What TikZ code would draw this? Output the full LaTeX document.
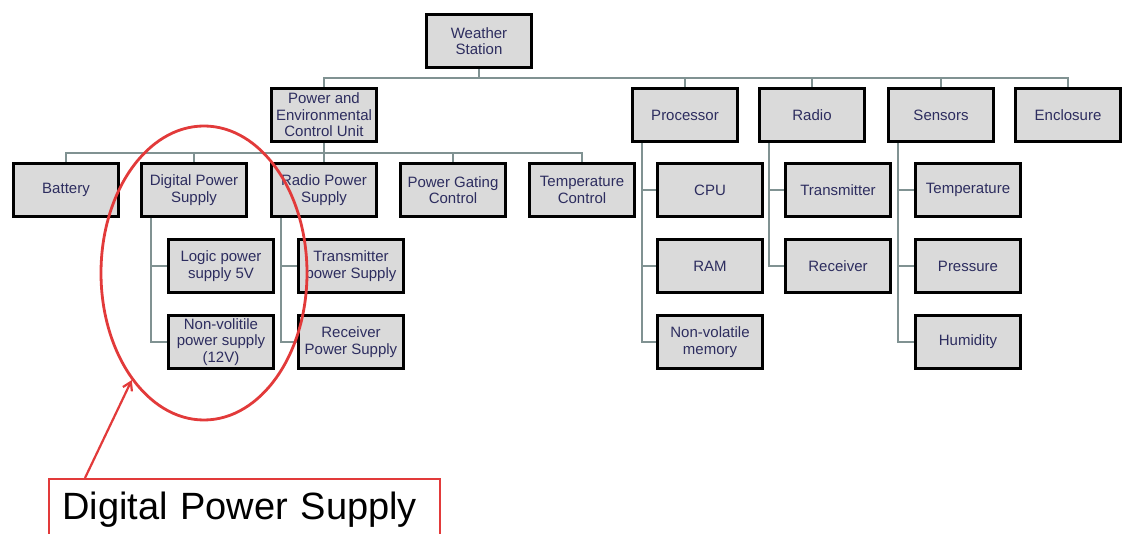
\documentclass[tikz,border=0pt]{standalone}
\usepackage{fontspec}
\setmainfont{Liberation Sans}
\usepackage{xcolor}
\usepackage{tikz}
\usetikzlibrary{arrows.meta,shapes.geometric,backgrounds}

\definecolor{boxfill}{RGB}{218,218,218}
\definecolor{boxtext}{RGB}{45,45,95}
\definecolor{linkgray}{RGB}{128,146,146}
\definecolor{markred}{RGB}{226,58,58}

\begin{document}
\begin{tikzpicture}[x=1pt,y=-1pt,
  unit/.style={draw=black,line width=3pt,fill=boxfill,minimum width=105pt,minimum height=53pt,
    align=center,inner sep=1pt,text=boxtext,font=\fontsize{15}{16.5}\selectfont},
  link/.style={draw=linkgray,line width=2.6pt}]
\useasboundingbox (0,0) rectangle (1122,534);
\clip (0,0) rectangle (1122,534);
% top
\node[unit] (ws) at (479,41) {Weather\\Station};
\node[unit] (pecu) at (324,115) {Power and\\Environmental\\Control Unit};
\node[unit] (proc) at (685,115) {Processor};
\node[unit] (radio) at (812,115) {Radio};
\node[unit] (sens) at (941,115) {Sensors};
\node[unit] (encl) at (1068,115) {Enclosure};
% power unit
\node[unit] (bat) at (66,190) {Battery};
\node[unit] (dps) at (194,190) {Digital Power\\Supply};
\node[unit] (rps) at (324,190) {Radio Power\\Supply};
\node[unit] (pgc) at (453,190) {Power Gating\\Control};
\node[unit] (tcu) at (582,190) {Temperature\\Control};
\node[unit] (logic) at (221,266) {Logic power\\supply 5V};
\node[unit] (nvps) at (221,342) {Non-volitile\\power supply\\(12V)};
\node[unit] (txps) at (351,266) {Transmitter\\power Supply};
\node[unit] (rxps) at (351,342) {Receiver\\Power Supply};
% processor, radio, sensors
\node[unit] (cpu) at (710,190) {CPU};
\node[unit] (ram) at (710,266) {RAM};
\node[unit] (nvm) at (710,342) {Non-volatile\\memory};
\node[unit] (tx) at (838,190) {Transmitter};
\node[unit] (rx) at (838,266) {Receiver};
\node[unit] (temp) at (968,190) {Temperature};
\node[unit] (pres) at (968,266) {Pressure};
\node[unit] (hum) at (968,342) {Humidity};

\begin{scope}[on background layer]
\foreach \n in {pecu,proc,radio,sens,encl}
  \draw[link] (ws.south) -- ++(0,9) -| (\n.north);
\foreach \n in {bat,dps,rps,pgc,tcu}
  \draw[link] (pecu.south) -- ++(0,10) -| (\n.north);
\foreach \p/\c in {dps/logic,dps/nvps,rps/txps,rps/rxps,proc/cpu,proc/ram,proc/nvm,radio/tx,radio/rx,sens/temp,sens/pres,sens/hum}
  \draw[link] ([xshift=11pt]\p.south west) |- (\c.west);
\end{scope}

% highlight
\node[draw=markred,line width=2.8pt,ellipse,minimum width=206pt,minimum height=294pt,inner sep=0pt] (ring) at (204,273) {};
\node[draw=markred,line width=2.4pt,anchor=north west,minimum height=60pt,inner xsep=13pt,
  text width=365pt,align=left,font=\fontsize{38}{40}\selectfont] (tag) at (48,478) {Digital Power Supply};
\draw[markred,line width=2.2pt,-{Straight Barb[length=8pt,width=10pt]}] ([xshift=37pt]tag.north west) -- (ring.236);
\end{tikzpicture}
\end{document}
